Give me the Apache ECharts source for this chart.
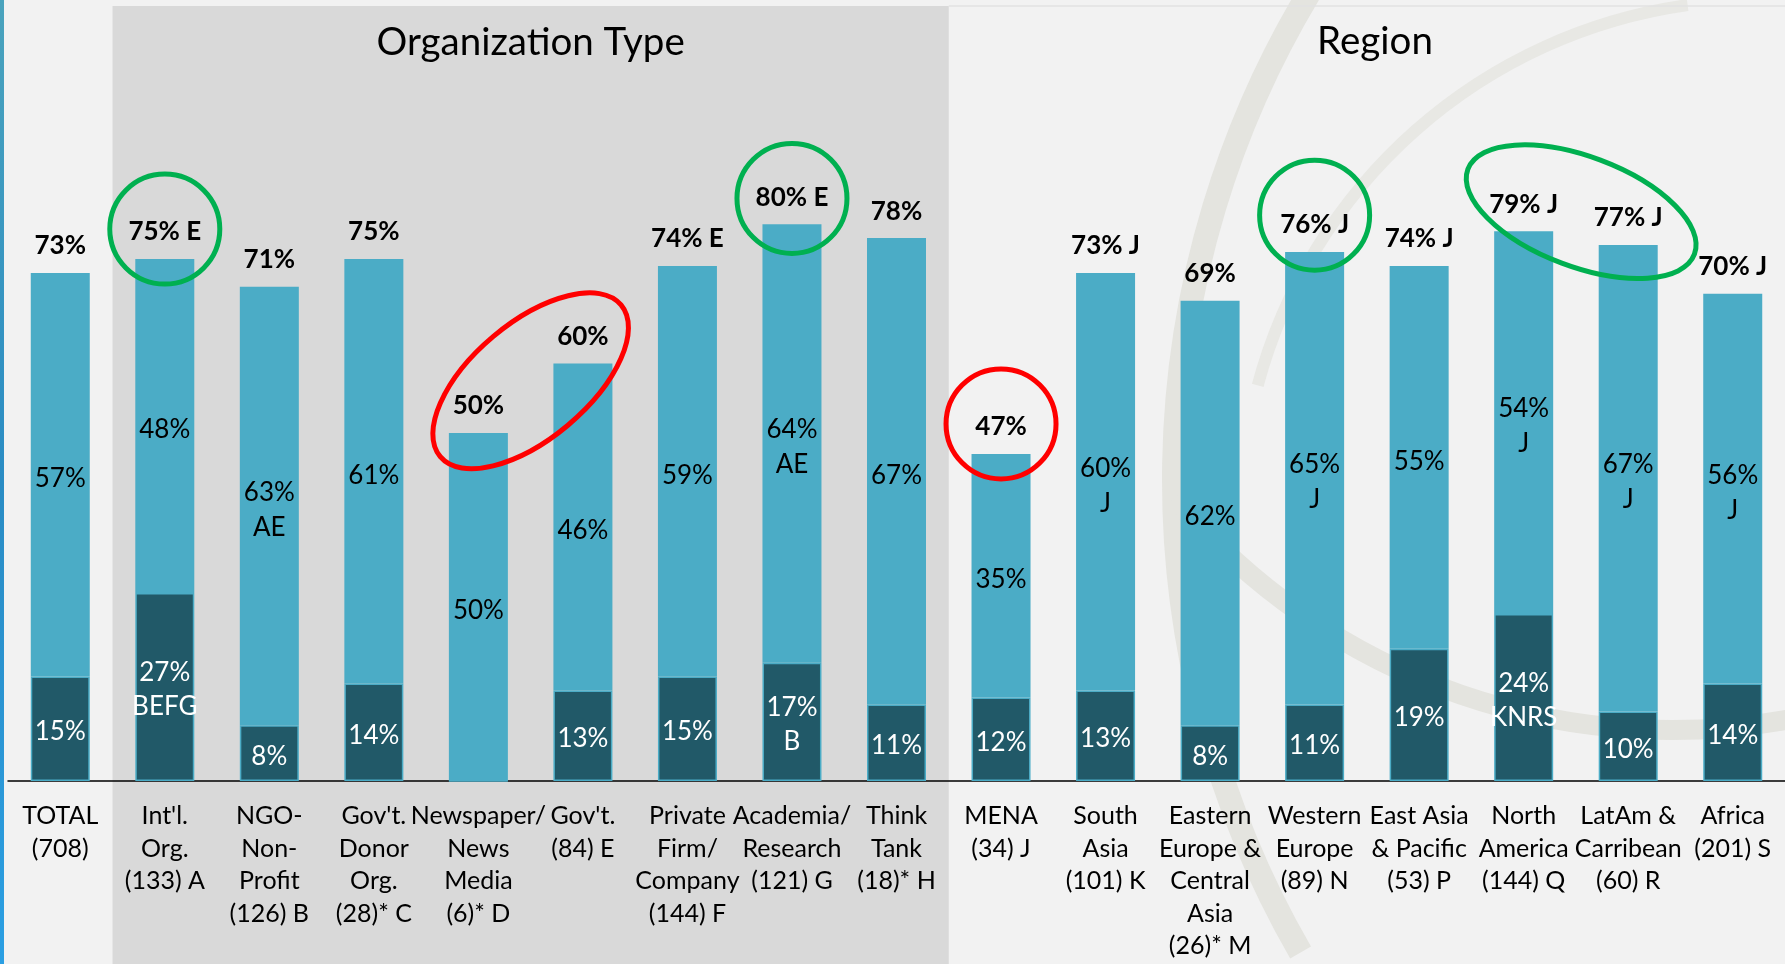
<!DOCTYPE html>
<html>
<head>
<meta charset="utf-8">
<title>Organization Type / Region</title>
<script src="https://cdn.jsdelivr.net/npm/echarts@6/dist/echarts.min.js"></script>
<style>
	html, body { margin: 0; padding: 0; background: #f2f2f2; }
	#main { width: 1785px; height: 964px; }
</style>
</head>
<body>
<div id="main"></div>
<script>
'use strict';

// categories (x axis)
var categories = [
	'TOTAL\n(708)',
	"Int'l.\nOrg.\n(133) A",
	'NGO-\nNon-\nProfit\n(126) B',
	"Gov't.\nDonor\nOrg.\n(28)* C",
	'Newspaper/\nNews\nMedia\n(6)* D',
	"Gov't.\n(84) E",
	'Private\nFirm/\nCompany\n(144) F',
	'Academia/\nResearch\n(121) G',
	'Think\nTank\n(18)* H',
	'MENA\n(34) J',
	'South\nAsia\n(101) K',
	'Eastern\nEurope &\nCentral\nAsia\n(26)* M',
	'Western\nEurope\n(89) N',
	'East Asia\n& Pacific\n(53) P',
	'North\nAmerica\n(144) Q',
	'LatAm &\nCarribean\n(60) R',
	'Africa\n(201) S'
];

// total (bar height, bold label on top)
var totalPct = [73, 75, 71, 75, 50, 60, 74, 80, 78, 47, 73, 69, 76, 74, 79, 77, 70];
var totalSig = ['', 'E', '', '', '', '', 'E', 'E', '', '', 'J', '', 'J', 'J', 'J', 'J', 'J'];

// upper (light) part label
var topPct = [57, 48, 63, 61, 50, 46, 59, 64, 67, 35, 60, 62, 65, 55, 54, 67, 56];
var topSig = ['', '', 'AE', '', '', '', '', 'AE', '', '', 'J', '', 'J', '', 'J', 'J', 'J'];

// lower (dark) part
var bottomPct = [15, 27, 8, 14, 0, 13, 15, 17, 11, 12, 13, 8, 11, 19, 24, 10, 14];
var bottomSig = ['', 'BEFG', '', '', '', '', '', 'B', '', '', '', '', '', '', 'KNRS', '', ''];

// circled callouts: category position, value level
var rings = [
	{ cat: 1, val: 79.3, rx: 55, ry: 55, rot: 0, color: '#00b050' },
	{ cat: 4.5, val: 57.5, rx: 118, ry: 58, rot: 40, color: '#ff0000' },
	{ cat: 7, val: 83.7, rx: 55, ry: 55, rot: 0, color: '#00b050' },
	{ cat: 9, val: 51.3, rx: 55, ry: 55, rot: 0, color: '#ff0000' },
	{ cat: 12, val: 81.3, rx: 55, ry: 55, rot: 0, color: '#00b050' },
	{ cat: 14.55, val: 81.8, rx: 121, ry: 55, rot: -20.6, color: '#00b050' }
];

var FONT = 'Lato, "Open Sans", sans-serif';
var LIGHT = '#4bacc6';
var DARK = '#215968';
var MARK = '#e4e4df';

var upperPart = totalPct.map(function(t, i) {
	return t - bottomPct[i];
});

var chart = echarts.init(document.getElementById('main'), null, { renderer: 'canvas' });

var option = {
	backgroundColor: '#f2f2f2',
	animation: false,
	grid: {
		left: 8,
		right: 0,
		top: 85,
		bottom: 183
	},
	xAxis: {
		type: 'category',
		data: categories,
		axisLine: { lineStyle: { color: '#000', width: 1.5 } },
		axisTick: { length: 7, lineStyle: { color: '#000', width: 1.5 } },
		axisLabel: {
			interval: 0,
			margin: 19,
			color: '#000',
			fontFamily: FONT,
			fontSize: 25,
			lineHeight: 32.5
		}
	},
	yAxis: {
		type: 'value',
		min: 0,
		max: 100,
		show: false,
		splitLine: { show: false }
	},
	series: [{
		name: 'bottom',
		type: 'bar',
		stack: 'a',
		barWidth: 59,
		data: bottomPct,
		itemStyle: { color: DARK, borderColor: LIGHT, borderWidth: 1.5 },
		label: {
			show: true,
			position: 'inside',
			offset: [0, 3],
			color: '#fff',
			fontFamily: FONT,
			fontSize: 26,
			lineHeight: 34,
			formatter: function(p) {
				if (!p.value) return '';
				var s = bottomSig[p.dataIndex];
				return p.value + '%' + (s ? '\n' + s : '');
			}
		}
	}, {
		name: 'top',
		type: 'bar',
		stack: 'a',
		barWidth: 59,
		data: upperPart,
		itemStyle: { color: LIGHT },
		label: {
			show: true,
			position: 'inside',
			offset: [0, 4],
			color: '#000',
			fontFamily: FONT,
			fontSize: 26,
			lineHeight: 35,
			formatter: function(p) {
				var s = topSig[p.dataIndex];
				return topPct[p.dataIndex] + '%' + (s ? '\n' + s : '');
			}
		}
	}, {
		name: 'total',
		type: 'bar',
		barWidth: 59,
		barGap: '-100%',
		data: totalPct,
		itemStyle: { color: 'rgba(0,0,0,0)' },
		label: {
			show: true,
			position: 'top',
			distance: 14,
			color: '#000',
			fontFamily: FONT,
			fontSize: 26,
			fontWeight: 'bold',
			formatter: function(p) {
				var s = totalSig[p.dataIndex];
				return p.value + '%' + (s ? ' ' + s : '');
			}
		}
	}]
};

chart.setOption(option);

// background panels, titles and rings go where the axis puts the bars
function px(cat, val) {
	var lo = Math.floor(cat), hi = Math.ceil(cat);
	var a = chart.convertToPixel({ gridIndex: 0 }, [lo, val]);
	var b = chart.convertToPixel({ gridIndex: 0 }, [hi, val]);
	var f = cat - lo;
	return [a[0] + (b[0] - a[0]) * f, a[1]];
}

var band = px(1, 0)[0] - px(0, 0)[0];
var orgLeft = px(1, 0)[0] - band / 2;
var orgRight = px(8, 0)[0] + band / 2;
var deg = Math.PI / 180;

var graphics = [];

// left blue edge
graphics.push({
	type: 'rect',
	z: -10,
	shape: { x: 0, y: 0, width: 4, height: 964 },
	style: {
		fill: new echarts.graphic.LinearGradient(0, 0, 0, 1, [
			{ offset: 0, color: '#4aa3bd' },
			{ offset: 0.5, color: '#2a8cc4' },
			{ offset: 1, color: '#2b9fe3' }
		])
	}
});

// faint logo swoosh behind the region bars
graphics.push({
	type: 'arc',
	z: -9,
	shape: { cx: 2119, cy: 480, r: 945, startAngle: 150 * deg, endAngle: 212 * deg, clockwise: true },
	style: { fill: null, stroke: MARK, lineWidth: 24 }
});
graphics.push({
	type: 'arc',
	z: -9,
	shape: { cx: 1672, cy: 81, r: 649, startAngle: 78 * deg, endAngle: 140 * deg, clockwise: true },
	style: { fill: null, stroke: MARK, lineWidth: 20 }
});
graphics.push({
	type: 'arc',
	z: -9,
	shape: { cx: 1760, cy: 520, r: 520, startAngle: 195 * deg, endAngle: 262 * deg, clockwise: true },
	style: { fill: null, stroke: '#e8e8e4', lineWidth: 12 }
});

// organization type panel
graphics.push({
	type: 'rect',
	z: -8,
	shape: { x: orgLeft, y: 6, width: orgRight - orgLeft, height: 964 - 6 },
	style: { fill: '#d9d9d9' }
});
graphics.push({
	type: 'line',
	z: -8,
	shape: { x1: orgRight, y1: 6, x2: 1785, y2: 6 },
	style: { stroke: '#e2e2e2', lineWidth: 1.5 }
});

// section titles
graphics.push({
	type: 'text',
	z: 5,
	x: (orgLeft + orgRight) / 2,
	y: 43,
	style: {
		text: 'Organization Type',
		textAlign: 'center',
		textVerticalAlign: 'middle',
		fontFamily: FONT,
		fontSize: 38.5,
		fill: '#000'
	}
});
graphics.push({
	type: 'text',
	z: 5,
	x: 1375,
	y: 42,
	style: {
		text: 'Region',
		textAlign: 'center',
		textVerticalAlign: 'middle',
		fontFamily: FONT,
		fontSize: 38.5,
		fill: '#000'
	}
});

// callout rings
rings.forEach(function(r) {
	var c = px(r.cat, r.val);
	graphics.push({
		type: 'ellipse',
		z: 100,
		x: c[0],
		y: c[1],
		rotation: r.rot * deg,
		shape: { cx: 0, cy: 0, rx: r.rx, ry: r.ry },
		style: { fill: null, stroke: r.color, lineWidth: 5 }
	});
});

chart.setOption({ graphic: graphics });
</script>
</body>
</html>
